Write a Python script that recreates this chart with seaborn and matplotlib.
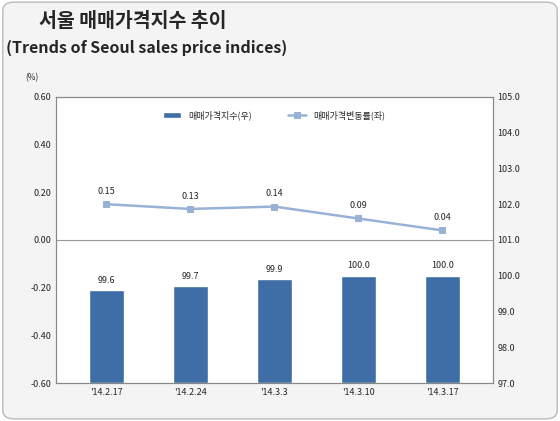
import matplotlib
matplotlib.use("Agg")
import matplotlib.pyplot as plt
import seaborn as sns
import pandas as pd
from matplotlib.patches import FancyBboxPatch

dates = ["'14.2.17", "'14.2.24", "'14.3.3", "'14.3.10", "'14.3.17"]
index_vals = [99.6, 99.7, 99.9, 100.0, 100.0]
change_vals = [0.15, 0.13, 0.14, 0.09, 0.04]
left_ticks = [-0.60, -0.40, -0.20, 0.00, 0.20, 0.40, 0.60]
right_ticks = [97.0, 98.0, 99.0, 100.0, 101.0, 102.0, 103.0, 104.0, 105.0]

sns.set_theme(style="white")
plt.rcParams['font.family'] = ['Noto Sans CJK KR', 'DejaVu Sans']

fig = plt.figure(figsize=(5.6, 4.21), dpi=100)
bg = FancyBboxPatch((0.005, 0.005), 0.99, 0.99, boxstyle="round,pad=0,rounding_size=0.02",
                    transform=fig.transFigure, facecolor="#f4f4f4", edgecolor="#bbbbbb", lw=1, zorder=-10)
fig.patches.append(bg)
fig.text(0.07, 0.935, "서울 매매가격지수 추이", fontsize=14, fontweight="bold")
fig.text(0.01, 0.875, "(Trends of Seoul sales price indices)", fontsize=11.5, fontweight="bold")
fig.text(0.045, 0.81, "(%)", fontsize=6)

ax = fig.add_axes([0.1, 0.09, 0.78, 0.68])
ax2 = ax.twinx()

ax2.bar(range(len(dates)), [v - 97 for v in index_vals], bottom=97, width=0.42, color="#3e6ea5",
        label="매매가격지수(우)")
for i, v in enumerate(index_vals):
    ax2.text(i, v + 0.15, f"{v:.1f}", ha="center", va="bottom", fontsize=6.5)
ax2.set_ylim(97, 105)
ax2.set_yticks(right_ticks)
ax2.set_yticklabels([f"{t:.1f}" for t in right_ticks], fontsize=6.5)

sns.lineplot(x=list(range(len(dates))), y=change_vals, ax=ax, color="#98b2d6", marker="s",
             markersize=5, markeredgecolor="#98b2d6", lw=1.8, label="매매가격변동률(좌)")
for i, v in enumerate(change_vals):
    ax.text(i, v + 0.035, f"{v:.2f}", ha="center", va="bottom", fontsize=6.5)
ax.set_ylim(-0.6, 0.6)
ax.set_yticks(left_ticks)
ax.set_yticklabels([f"{t:.2f}" for t in left_ticks], fontsize=6.5)
ax.set_xlim(-0.6, 4.6)
ax.set_xticks(range(len(dates)))
ax.set_xticklabels(dates, fontsize=6.5)
ax.axhline(0, color="#999999", lw=0.8)
ax.tick_params(length=0)
ax2.tick_params(length=0)
ax.set_zorder(ax2.get_zorder() + 1)
ax.patch.set_visible(False)
ax2.patch.set_visible(True)
ax2.set_facecolor("white")
for a in (ax, ax2):
    for s in a.spines.values():
        s.set_color("#888888"); s.set_linewidth(0.8)

h1, l1 = ax2.get_legend_handles_labels()
h2, l2 = ax.get_legend_handles_labels()
ax.legend(h1 + h2, l1 + l2, loc="upper center", bbox_to_anchor=(0.5, 0.98), ncol=2, frameon=False,
          fontsize=6.5, columnspacing=4)
fig.savefig("out.png", dpi=100)
